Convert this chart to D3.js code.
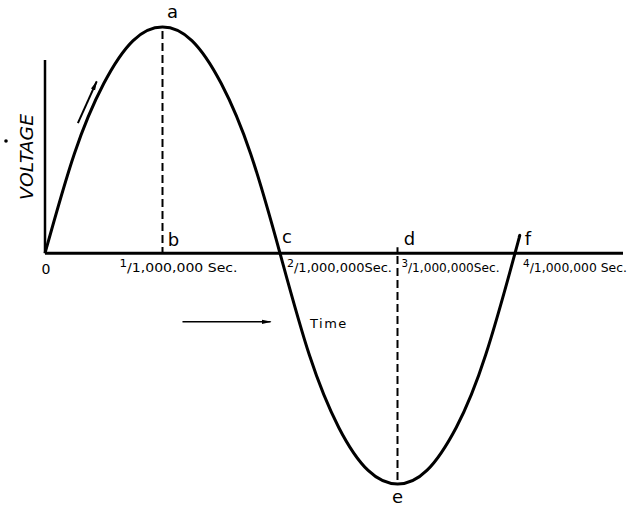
<!DOCTYPE html>
<html>
<head>
<meta charset="utf-8">
<script src="https://cdn.jsdelivr.net/npm/d3@7"></script>
<style>
  body { margin: 0; background: #fff; }
  svg { display: block; }
  .wave { fill: none; stroke: #000; stroke-width: 3; }
  .axis-line { stroke: #000; }
  .drop { stroke: #000; stroke-width: 2; stroke-dasharray: 8 4; }
  .lbl { font-family: "DejaVu Sans", sans-serif; fill: #000; }
</style>
</head>
<body>
<svg id="chart" width="635" height="507"></svg>
<script>
// ---- data (time in microseconds, voltage relative to peak) ----
const waveTimes  = [0, 0.25, 0.5, 0.75, 1, 1.25, 1.5, 1.75, 2, 2.25, 2.5, 2.75, 3, 3.25, 3.5, 3.75, 4, 4.035];
const waveVolts  = [0, 0.44, 0.75, 0.94, 1, 0.94, 0.75, 0.44, 0, -0.45, -0.77, -0.96, -1.02, -0.96, -0.77, -0.45, 0, 0.07];

const tickTimes  = [1, 2, 3, 4];
const tickNums   = ["1", "2", "3", "4"];
const tickDenoms = ["1,000,000 Sec.", "1,000,000Sec.", "1,000,000Sec.", "1,000,000 Sec."];

// lettered points on the wave
const pointNames = ["a", "b", "c", "d", "e", "f"];
const pointTimes = [1, 1, 2, 3, 3, 4];
const pointVolts = [1, 0, 0, 0, -1.02, 0];

// ---- layout ----
const xRange = [45, 515];
const yRange = [484, 27];
const tickDx = [-43, 7, 4, 8];          // label start relative to tick
const tickLen = [118, 105, 98, 104];    // drawn width of each label
const pointDx = [10, 11, 7, 12, 0, 13];
const pointDy = [-9, -7, -10, -8, 19, -8];

const svg = d3.select('#chart');

const x = d3.scaleLinear().domain([0, 4]).range(xRange);
const y = d3.scaleLinear().domain([-1.02, 1]).range(yRange);

const wave = waveTimes.map((t, i) => ({ t, v: waveVolts[i] }));

// arrowhead
svg.append('defs').append('marker')
  .attr('id', 'head')
  .attr('viewBox', '0 0 10 6')
  .attr('refX', 9).attr('refY', 3)
  .attr('markerWidth', 10).attr('markerHeight', 6)
  .attr('markerUnits', 'userSpaceOnUse')
  .attr('orient', 'auto')
  .append('path')
  .attr('d', 'M0,0.8 L10,3 L0,5.2 Z')
  .attr('fill', '#000');

// axes
svg.append('line').attr('class', 'axis-line')
  .attr('x1', x(0)).attr('x2', 623)
  .attr('y1', y(0)).attr('y2', y(0))
  .attr('stroke-width', 3);

svg.append('line').attr('class', 'axis-line')
  .attr('x1', x(0)).attr('x2', x(0))
  .attr('y1', 60).attr('y2', y(0))
  .attr('stroke-width', 2.5);

// dashed drops from peak and trough
svg.append('line').attr('class', 'drop')
  .attr('x1', x(1)).attr('x2', x(1))
  .attr('y1', y(1) + 4).attr('y2', y(0));
svg.append('line').attr('class', 'drop')
  .attr('x1', x(3)).attr('x2', x(3))
  .attr('y1', y(-1.02) - 4).attr('y2', y(0) - 6);

// the wave
const line = d3.line()
  .x(d => x(d.t))
  .y(d => y(d.v))
  .curve(d3.curveNatural);

svg.append('path')
  .datum(wave)
  .attr('class', 'wave')
  .attr('d', line);

// direction arrow beside the rising edge
svg.append('line')
  .attr('x1', x(0.28)).attr('y1', y(0.575))
  .attr('x2', x(0.44)).attr('y2', y(0.76))
  .attr('stroke', '#000').attr('stroke-width', 2)
  .attr('marker-end', 'url(#head)');

// time arrow
svg.append('line')
  .attr('x1', x(1.17)).attr('y1', y(-0.303))
  .attr('x2', x(1.92)).attr('y2', y(-0.303))
  .attr('stroke', '#000').attr('stroke-width', 1.6)
  .attr('marker-end', 'url(#head)');

svg.append('text').attr('class', 'lbl')
  .attr('x', 310).attr('y', 328)
  .attr('font-size', 13).attr('letter-spacing', 1.5)
  .text('Time');

// tick labels: numerator / 1,000,000 Sec.
tickTimes.forEach((t, i) => {
  const txt = svg.append('text').attr('class', 'lbl')
    .attr('x', x(t) + tickDx[i]).attr('y', 272)
    .attr('font-size', 13)
    .attr('textLength', tickLen[i])
    .attr('lengthAdjust', 'spacingAndGlyphs');
  txt.append('tspan').attr('dy', -5).attr('font-size', 11).text(tickNums[i]);
  txt.append('tspan').attr('dy', 5).text('/' + tickDenoms[i]);
});

// origin
svg.append('text').attr('class', 'lbl')
  .attr('x', x(0) + 1).attr('y', 274)
  .attr('text-anchor', 'middle').attr('font-size', 14)
  .text('0');

// lettered points
pointNames.forEach((n, i) => {
  svg.append('text').attr('class', 'lbl')
    .attr('x', x(pointTimes[i]) + pointDx[i])
    .attr('y', y(pointVolts[i]) + pointDy[i])
    .attr('text-anchor', 'middle')
    .attr('font-size', 18)
    .text(n);
});

// y label
svg.append('text').attr('class', 'lbl')
  .attr('transform', 'translate(33,157) rotate(-90)')
  .attr('text-anchor', 'middle')
  .attr('font-size', 18).attr('font-style', 'italic')
  .attr('textLength', 86).attr('lengthAdjust', 'spacingAndGlyphs')
  .text('VOLTAGE');
svg.append('circle').attr('cx', 6).attr('cy', 141).attr('r', 1.8).attr('fill', '#000');
</script>
</body>
</html>
